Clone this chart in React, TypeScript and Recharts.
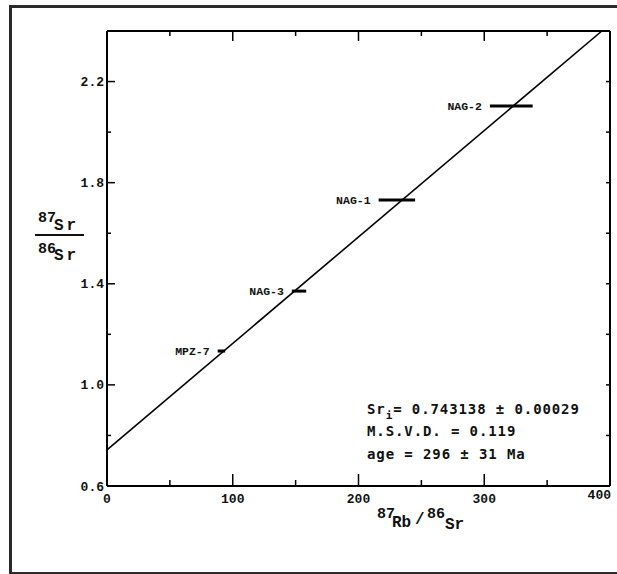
import {
  ComposedChart,
  XAxis,
  YAxis,
  Scatter,
  ErrorBar,
  ReferenceLine,
} from "recharts";

// samples, 87Rb/86Sr with horizontal error, 87Sr/86Sr
const sampleNames = ["MPZ-7", "NAG-3", "NAG-1", "NAG-2"];
const rbSr = [91, 152.7, 230.5, 321.5];
const rbSrErr = [3, 5.7, 14.5, 17];
const srSr = [1.134, 1.371, 1.731, 2.103];

// isochron end points
const isochronX = [0, 393.5];
const isochronY = [0.743138, 2.4];

const xTicks = [0, 50, 100, 150, 200, 250, 300, 350, 400];
const yTicks = [0.6, 0.8, 1.0, 1.2, 1.4, 1.6, 1.8, 2.0, 2.2, 2.4];

const points = sampleNames.map((name, i) => ({
  name,
  x: rbSr[i],
  y: srSr[i],
  err: rbSrErr[i],
}));
const labelPoints = points.map((p) => ({ name: p.name, x: p.x - p.err, y: p.y }));

const tickFont = {
  fontFamily: "'Liberation Mono', monospace",
  fontWeight: 700,
  fontSize: 13,
  fill: "#111",
};

const BottomTick = (props: any) => {
  const { x, y, payload } = props;
  const major = payload.value % 100 === 0;
  const last = payload.value === 400;
  return (
    <g>
      <line x1={x} x2={x} y1={y} y2={y - (major ? 12 : 6)} stroke="#000" strokeWidth={1.5} />
      {major && (
        <text
          x={last ? x + 1 : x}
          y={last ? y + 13 : y + 17}
          textAnchor={last ? "end" : "middle"}
          {...tickFont}
        >
          {payload.value}
        </text>
      )}
    </g>
  );
};

const TopTick = (props: any) => {
  const { x, y, payload } = props;
  const major = payload.value % 100 === 0;
  if (payload.value === 0 || payload.value === 400) return <g />;
  return <line x1={x} x2={x} y1={y} y2={y + (major ? 10 : 5)} stroke="#000" strokeWidth={1.5} />;
};

const LeftTick = (props: any) => {
  const { x, y, payload } = props;
  const major = Math.round(payload.value * 10) % 4 === 2;
  if (payload.value >= 2.4) return <g />;
  return (
    <g>
      <line x1={x} x2={x + (major ? 8 : 4)} y1={y} y2={y} stroke="#000" strokeWidth={1.5} />
      {major && (
        <text x={x - 3} y={y} dy="0.35em" textAnchor="end" {...tickFont}>
          {payload.value.toFixed(1)}
        </text>
      )}
    </g>
  );
};

const RightTick = (props: any) => {
  const { x, y, payload } = props;
  if (payload.value <= 0.6 || payload.value >= 2.4) return <g />;
  return <line x1={x} x2={x - 4} y1={y} y2={y} stroke="#000" strokeWidth={1.5} />;
};

const NameLabel = (props: any) => {
  const { cx, cy, payload } = props;
  return (
    <text
      x={cx - 8}
      y={cy}
      dy="0.35em"
      textAnchor="end"
      fontFamily="'Liberation Mono', monospace"
      fontWeight={700}
      fontSize={11.5}
      fill="#111"
    >
      {payload.name}
    </text>
  );
};

const textFont = {
  fontFamily: "'DejaVu Sans Mono', monospace",
  fontWeight: 700,
  fontSize: 14,
  fill: "#111",
};

export default function App() {
  return (
    <div
      style={{
        position: "absolute",
        left: 0,
        top: 0,
        width: 617,
        height: 574,
        overflow: "hidden",
        background: "#fff",
      }}
    >
      <div
        style={{
          position: "absolute",
          left: 9,
          top: 5,
          width: 620,
          height: 564,
          border: "3px solid #2a2a2a",
        }}
      />
      <div style={{ position: "absolute", left: 0, top: 0 }}>
        <ComposedChart width={617} height={574} margin={{ top: 30, right: 6, bottom: 58, left: 47 }}>
          <XAxis
            type="number"
            dataKey="x"
            domain={[0, 400]}
            ticks={xTicks}
            interval={0}
            height={30}
            tickSize={0}
            tickMargin={0}
            tickLine={false}
            tick={<BottomTick />}
            axisLine={{ stroke: "#000", strokeWidth: 2 }}
          />
          <XAxis
            xAxisId="top"
            orientation="top"
            type="number"
            dataKey="x"
            domain={[0, 400]}
            ticks={xTicks}
            interval={0}
            height={1}
            tickSize={0}
            tickMargin={0}
            tickLine={false}
            tick={<TopTick />}
            axisLine={{ stroke: "#000", strokeWidth: 2 }}
          />
          <YAxis
            type="number"
            dataKey="y"
            domain={[0.6, 2.4]}
            ticks={yTicks}
            interval={0}
            width={60}
            tickSize={0}
            tickMargin={0}
            tickLine={false}
            tick={<LeftTick />}
            axisLine={{ stroke: "#000", strokeWidth: 2 }}
          />
          <YAxis
            yAxisId="right"
            orientation="right"
            type="number"
            dataKey="y"
            domain={[0.6, 2.4]}
            ticks={yTicks}
            interval={0}
            width={1}
            tickSize={0}
            tickMargin={0}
            tickLine={false}
            tick={<RightTick />}
            axisLine={{ stroke: "#000", strokeWidth: 2 }}
          />
          <ReferenceLine
            segment={[
              { x: isochronX[0], y: isochronY[0] },
              { x: isochronX[1], y: isochronY[1] },
            ]}
            stroke="#000"
            strokeWidth={1.6}
          />
          <Scatter data={points} shape={() => <g />} isAnimationActive={false}>
            <ErrorBar
              dataKey="err"
              direction="x"
              width={0}
              stroke="#000"
              strokeWidth={3}
              isAnimationActive={false}
            />
          </Scatter>
          <Scatter
            data={labelPoints}
            xAxisId="top"
            yAxisId="right"
            shape={<NameLabel />}
            isAnimationActive={false}
          />
        </ComposedChart>
      </div>
      <svg
        width={617}
        height={574}
        style={{ position: "absolute", left: 0, top: 0, pointerEvents: "none" }}
      >
        {/* y axis title: 87Sr / 86Sr */}
        <g fontFamily="'Liberation Mono', monospace" fontWeight={700} fill="#111">
          <text x={38} y={222} fontSize={15}>87</text>
          <text x={54} y={230} fontSize={16} letterSpacing={3}>Sr</text>
          <line x1={35} x2={84} y1={235} y2={235} stroke="#111" strokeWidth={2} />
          <text x={38} y={253} fontSize={15}>86</text>
          <text x={54} y={260} fontSize={16} letterSpacing={3}>Sr</text>
        </g>
        {/* x axis title: 87Rb/86Sr */}
        <g fontFamily="'Liberation Mono', monospace" fontWeight={700} fill="#111">
          <text x={377} y={518} fontSize={15}>87</text>
          <text x={392} y={527} fontSize={16}>Rb</text>
          <text x={415} y={524} fontSize={16}>/</text>
          <text x={427} y={518} fontSize={15}>86</text>
          <text x={445} y={529} fontSize={16}>Sr</text>
        </g>
        {/* isochron statistics */}
        <g {...textFont} letterSpacing={0.9}>
          <text x={367} y={414}>
            Sr<tspan dy={5} fontSize={11}>i</tspan>
            <tspan dy={-5}>= 0.743138 ± 0.00029</tspan>
          </text>
          <text x={367} y={436}>M.S.V.D. = 0.119</text>
          <text x={367} y={459}>age = 296 ± 31 Ma</text>
        </g>
      </svg>
    </div>
  );
}
